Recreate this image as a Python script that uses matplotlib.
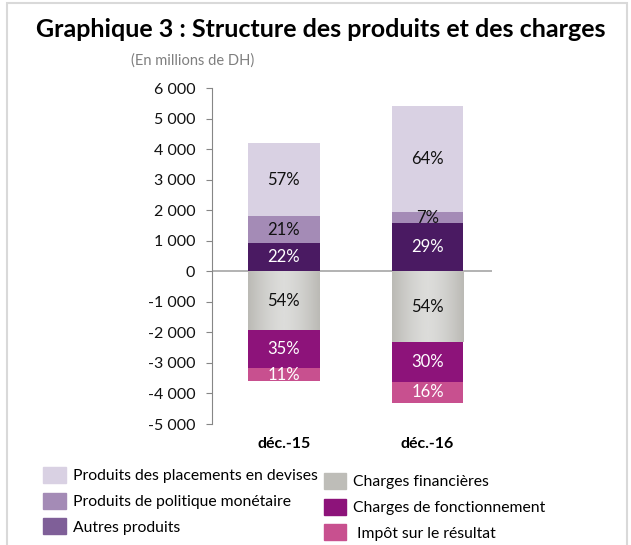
import numpy as np
import matplotlib
matplotlib.use("Agg")
import matplotlib.pyplot as plt
from matplotlib.patches import Patch, Rectangle
from matplotlib.ticker import FuncFormatter

plt.rcParams["font.family"] = ["Lato", "DejaVu Sans"]

# Data (millions de DH)
periods = ["déc.-15", "déc.-16"]
autres_produits = [920, 1566]
produits_politique = [880, 378]
produits_placements = [2400, 3456]
charges_financieres = [-1930, -2320]
charges_fonctionnement = [-1250, -1290]
impot_resultat = [-400, -690]

c_placements = "#D9D1E3"
c_politique = "#A48BB6"
c_autres_bar = "#4A1A62"
c_autres_leg = "#7F5F98"
c_fin = "#BEBDB8"
c_fonct = "#8D137A"
c_impot = "#C8508F"


def main():
    fig = plt.figure(figsize=(6.31, 5.45), dpi=100)
    ax = fig.add_axes([0.336, 0.222, 0.444, 0.6165])

    x = np.arange(len(periods))
    w = 0.5

    prod_total = np.array(autres_produits) + np.array(produits_politique) + np.array(produits_placements)
    chg_total = -(np.array(charges_financieres) + np.array(charges_fonctionnement) + np.array(impot_resultat))

    # positive stack
    b1 = ax.bar(x, autres_produits, w, color=c_autres_bar, zorder=2)
    b2 = ax.bar(x, produits_politique, w, bottom=autres_produits, color=c_politique, zorder=2)
    bot3 = np.array(autres_produits) + np.array(produits_politique)
    b3 = ax.bar(x, produits_placements, w, bottom=bot3, color=c_placements, zorder=2)

    # negative stack
    n1 = ax.bar(x, charges_financieres, w, color=c_fin, zorder=2)
    n2 = ax.bar(x, charges_fonctionnement, w, bottom=charges_financieres, color=c_fonct, zorder=2)
    botn3 = np.array(charges_financieres) + np.array(charges_fonctionnement)
    n3 = ax.bar(x, impot_resultat, w, bottom=botn3, color=c_impot, zorder=2)

    # metallic gradient on the charges financieres bars
    grad = np.abs(np.linspace(-1, 1, 64)) ** 1.5
    grad = grad[np.newaxis, :]
    cmap = matplotlib.colors.LinearSegmentedColormap.from_list("g", ["#DCDCDA", "#BBBAB5"])
    for r in n1:
        x0, y0, ww, hh = r.get_x(), r.get_y(), r.get_width(), r.get_height()
        im = ax.imshow(grad, cmap=cmap, aspect="auto", zorder=3,
                       extent=(x0, x0 + ww, y0 + hh, y0))
        im.set_clip_path(r)

    def label(bars, vals, totals, color):
        for r, v, t in zip(bars, vals, totals):
            cy = r.get_y() + r.get_height() / 2
            ax.text(r.get_x() + r.get_width() / 2, cy, f"{abs(v) / t * 100:.0f}%",
                    ha="center", va="center", fontsize=12, color=color, zorder=4)

    label(b1, autres_produits, prod_total, "white")
    label(b2, produits_politique, prod_total, "#111111")
    label(b3, produits_placements, prod_total, "#111111")
    label(n1, charges_financieres, chg_total, "#111111")
    label(n2, charges_fonctionnement, chg_total, "white")
    label(n3, impot_resultat, chg_total, "white")

    ax.axhline(0, color="#A6A6A6", lw=1.2, zorder=1)
    ax.set_ylim(-5000, 6000)
    ax.set_xlim(-0.5, 1.45)
    ax.set_yticks(np.arange(-5000, 6001, 1000))
    ax.yaxis.set_major_formatter(FuncFormatter(lambda v, p: f"{int(v):,}".replace(",", " ")))
    ax.tick_params(axis="y", length=4, color="#868686", labelsize=11.5, pad=8, labelcolor="#111111")
    ax.set_xticks([])
    for s in ["top", "right", "bottom"]:
        ax.spines[s].set_visible(False)
    ax.spines["left"].set_color("#868686")

    for xi, p in zip(x, periods):
        ax.text(xi, -5650, p, ha="center", va="center", fontsize=11.5, fontweight="bold")

    fig.text(0.508, 0.945, "Graphique 3 : Structure des produits et des charges",
             ha="center", va="center", fontsize=18, fontweight="bold")
    fig.text(0.306, 0.889, "(En millions de DH)", ha="center", va="center",
             fontsize=10.5, color="#7F7F7F")

    # outer frame
    fig.add_artist(Rectangle((0.011, -0.01), 0.982, 1.004, transform=fig.transFigure,
                             fill=False, edgecolor="#D9D9D9", lw=1.5))

    left_handles = [Patch(color=c_placements), Patch(color=c_politique), Patch(color=c_autres_leg)]
    left_labels = ["Produits des placements en devises", "Produits de politique monétaire",
                   "Autres produits"]
    right_handles = [Patch(color=c_fin), Patch(color=c_fonct), Patch(color=c_impot)]
    right_labels = ["Charges financières", "Charges de fonctionnement", " Impôt sur le résultat"]

    kw = dict(frameon=False, fontsize=11.3, handlelength=1.45, handleheight=1.2,
              labelspacing=0.6, handletextpad=0.45, borderaxespad=0)
    fig.legend(left_handles, left_labels, loc="upper left", bbox_to_anchor=(0.058, 0.155), **kw)
    fig.legend(right_handles, right_labels, loc="upper left", bbox_to_anchor=(0.503, 0.144), **kw)

    fig.savefig("out.png", dpi=100)


if __name__ == "__main__":
    main()
